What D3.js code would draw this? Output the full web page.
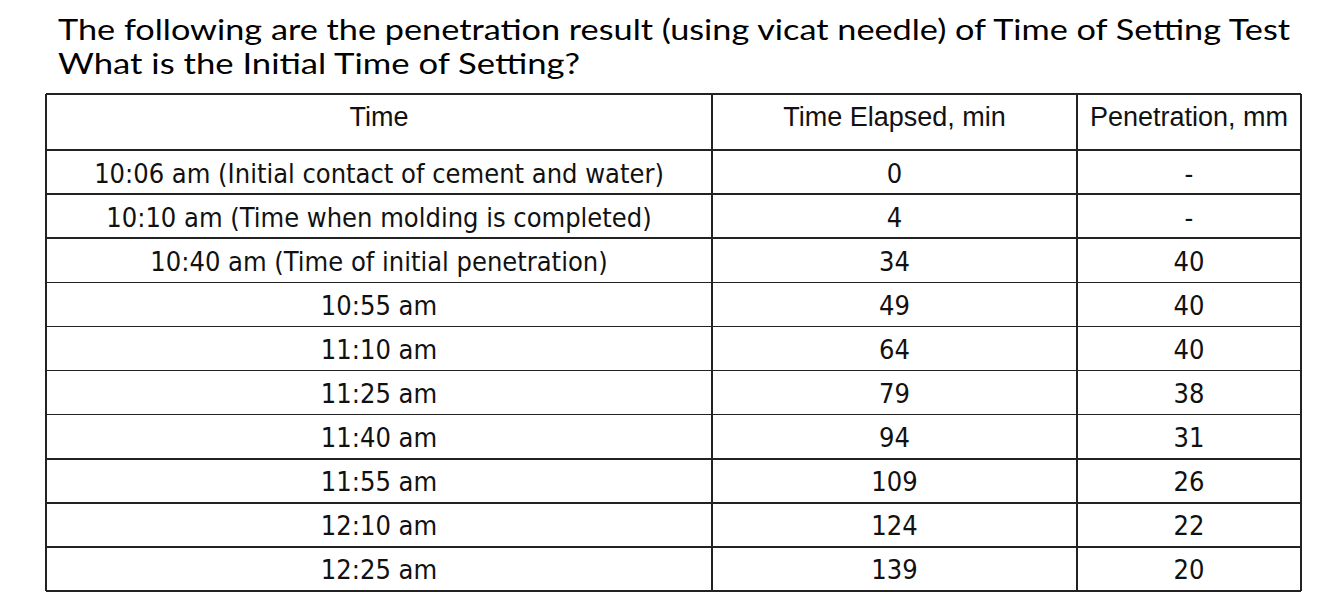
<!DOCTYPE html>
<html>
<head>
<meta charset="utf-8">
<script src="https://cdn.jsdelivr.net/npm/d3@7"></script>
<style>
  body { margin: 0; background: #fff; }
</style>
</head>
<body>
<div id="table"></div>
<script>
const titleLines = [
  "The following are the penetration result (using vicat needle) of Time of Setting Test",
  "What is the Initial Time of Setting?"
]
const headers = ["Time", "Time Elapsed, min", "Penetration, mm"]
const times = [
  "10:06 am (Initial contact of cement and water)",
  "10:10 am (Time when molding is completed)",
  "10:40 am (Time of initial penetration)",
  "10:55 am", "11:10 am", "11:25 am", "11:40 am",
  "11:55 am", "12:10 am", "12:25 am"
]
const elapsed = [0, 4, 34, 49, 64, 79, 94, 109, 124, 139]
const penetration = ["-", "-", 40, 40, 40, 38, 31, 26, 22, 20]

const WIDTH = 1327
const HEIGHT = 611

const drawTable = () => {
  const svg = d3
    .select("#table")
    .append("svg")
      .attr("width", WIDTH)
      .attr("height", HEIGHT)

  // title: two lines, Calibri-like (Lato), squeezed to the original width
  svg.append("g")
    .selectAll("text")
    .data(titleLines)
    .join("text")
      .attr("x", 58)
      .attr("y", (d, i) => 40 + i * 34)
      .attr("font-family", "Lato, 'Open Sans', sans-serif")
      .attr("font-size", 28)
      .attr("fill", "#000")
      .attr("textLength", (d, i) => i === 0 ? 1232 : 522)
      .attr("lengthAdjust", "spacingAndGlyphs")
      .text(d => d)

  const colEdges = [46, 712, 1077, 1301]
  const xCol = (i) => (colEdges[i] + colEdges[i + 1]) / 2

  const headTop = 94
  const headBottom = 150
  const y = d3.scaleLinear().domain([0, times.length]).range([headBottom, 591])

  const rows = times.map((t, i) => [t, elapsed[i], penetration[i]])

  const grid = svg.append("g")
    .attr("stroke", "#222")
    .attr("stroke-width", 1.6)
    .attr("shape-rendering", "crispEdges")

  // horizontal rules
  grid.selectAll("line.h")
    .data([headTop].concat(d3.range(times.length + 1).map(y)))
    .join("line")
      .attr("class", "h")
      .attr("x1", colEdges[0])
      .attr("x2", colEdges[3])
      .attr("y1", d => d)
      .attr("y2", d => d)

  // vertical rules
  grid.selectAll("line.v")
    .data(colEdges)
    .join("line")
      .attr("class", "v")
      .attr("x1", d => d)
      .attr("x2", d => d)
      .attr("y1", headTop)
      .attr("y2", y(times.length))

  svg.append("g")
    .selectAll("text")
    .data(headers)
    .join("text")
      .attr("x", (d, i) => xCol(i))
      .attr("y", 117)
      .attr("text-anchor", "middle")
      .attr("dominant-baseline", "central")
      .attr("font-family", "'Liberation Sans', Arial, sans-serif")
      .attr("font-size", 27)
      .attr("fill", "#111")
      .text(d => d)

  const body = svg.append("g")
    .attr("font-family", "'DejaVu Sans Condensed', 'DejaVu Sans', sans-serif")
    .attr("font-size", 27)
    .attr("fill", "#111")

  const rowG = body.selectAll("g")
    .data(rows)
    .join("g")
      .attr("transform", (d, i) => `translate(0,${(y(i) + y(i + 1)) / 2 + 1})`)

  rowG.selectAll("text")
    .data(d => d)
    .join("text")
      .attr("x", (d, i) => xCol(i))
      .attr("text-anchor", "middle")
      .attr("dominant-baseline", "central")
      .text(d => d)
}

drawTable()
</script>
</body>
</html>
